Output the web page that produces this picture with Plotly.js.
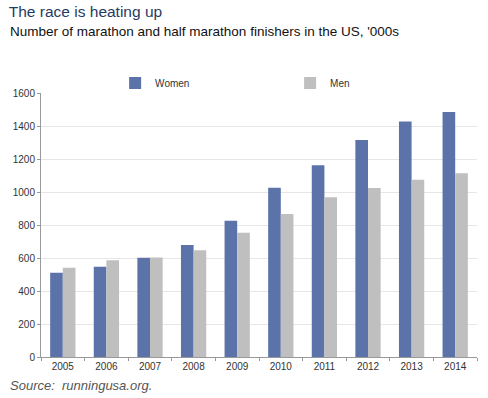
<!DOCTYPE html>
<html>
<head>
<meta charset="utf-8">
<script src="https://cdn.plot.ly/plotly-3.0.1.min.js"></script>
<style>html,body{margin:0;padding:0;background:#fff;}#chart{width:488px;height:398px;}</style>
</head>
<body>
<div id="chart"></div>
<script>
var years = ['2005','2006','2007','2008','2009','2010','2011','2012','2013','2014'];
var women = [511, 547, 602, 679, 826, 1026, 1162, 1315, 1428, 1485];
var men = [541, 586, 603, 647, 753, 867, 968, 1024, 1075, 1113];

var font = 'Liberation Sans, Arial, sans-serif';
var data = [
  {type:'bar', name:'Women', x:years, y:women, marker:{color:'#5b73a9'}},
  {type:'bar', name:'Men', x:years, y:men, marker:{color:'#bfbfbf'}}
];
var layout = {
  width:488, height:398,
  margin:{l:41, r:11, t:93, b:41},
  paper_bgcolor:'#fff', plot_bgcolor:'#fff',
  font:{family:font, size:10, color:'#333'},
  barmode:'group', bargap:0.42, bargroupgap:0,
  title:{text:'The race is heating up', x:0.018, xanchor:'left', y:0.972, yanchor:'middle', font:{family:font, size:15.5, color:'#1f3b64'}},
  annotations:[
    {text:"Number of marathon and half marathon finishers in the US, '000s", xref:'paper', yref:'paper', x:-0.075, xanchor:'left', y:1.232, yanchor:'middle', showarrow:false, font:{family:font, size:13.5, color:'#111'}},
    {text:'<i>Source:  runningusa.org.</i>', xref:'paper', yref:'paper', x:-0.076, xanchor:'left', y:-0.107, yanchor:'middle', showarrow:false, font:{family:font, size:13, color:'#555'}}
  ],
  showlegend:true,
  legend:{orientation:'h', x:0.17, xanchor:'left', y:1.038, yanchor:'middle', entrywidth:130, font:{family:font, size:10, color:'#333'}, itemwidth:30, tracegroupgap:0},
  xaxis:{type:'category', showline:true, linecolor:'#999', linewidth:1, ticks:'outside', ticklen:3, tickcolor:'#999', tickson:'boundaries', showgrid:false, tickfont:{size:10, color:'#333'}},
  yaxis:{range:[0,1600], dtick:200, showline:true, linecolor:'#999', linewidth:1, ticks:'outside', ticklen:3, tickcolor:'#999', gridcolor:'#e6e6e6', zeroline:false, tickfont:{size:10, color:'#333'}}
};
Plotly.newPlot('chart', data, layout, {displayModeBar:false, staticPlot:true});
</script>
</body>
</html>
